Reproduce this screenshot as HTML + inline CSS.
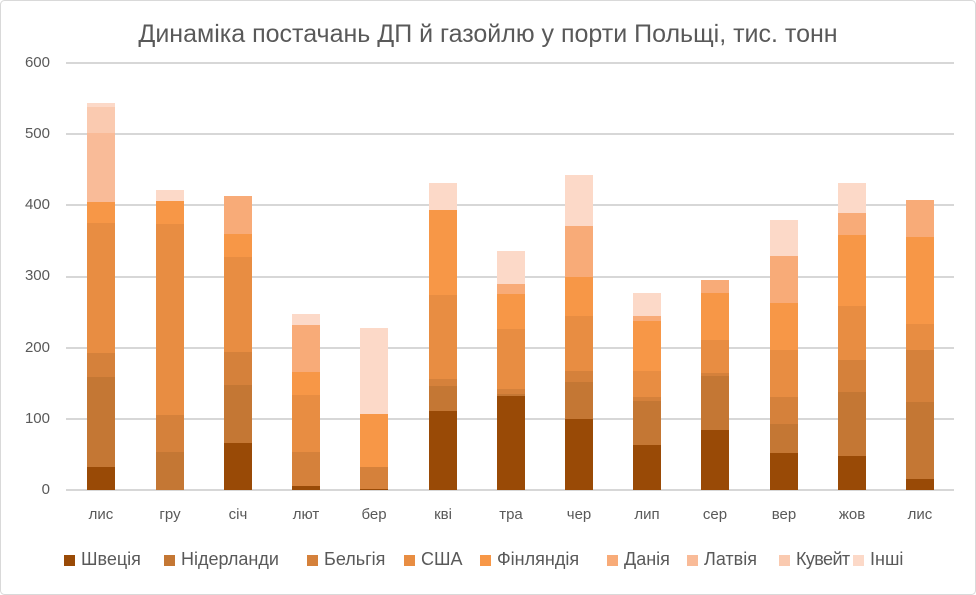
<!DOCTYPE html>
<html><head><meta charset="utf-8"><style>
body{margin:0;background:#fff}
#c{position:relative;width:976px;height:595px;overflow:hidden;font-family:"Liberation Sans",sans-serif;color:#595959}
.t{position:absolute;white-space:nowrap}
</style></head><body><div id="c">
<svg width="976" height="595" style="position:absolute;left:0;top:0">
<rect x="0.5" y="0.5" width="975" height="594" rx="4" fill="#fff" stroke="#d9d9d9"/>
<g stroke="#bfbfbf" stroke-width="1.3">
<line x1="66" x2="954" y1="63" y2="63"/><line x1="66" x2="954" y1="134" y2="134"/><line x1="66" x2="954" y1="205" y2="205"/><line x1="66" x2="954" y1="277" y2="277"/><line x1="66" x2="954" y1="348" y2="348"/><line x1="66" x2="954" y1="419" y2="419"/><line x1="66" x2="954" y1="490" y2="490"/>
</g>
<g id="bars"></g>
</svg>
<div class="t" style="left:0;width:976px;top:20px;text-align:center;font-size:25px">Динаміка постачань ДП й газойлю у порти Польщі, тис. тонн</div>
<div id="lab"></div>
</div>
<script>
const C=["#994a06","#c47734","#d5813b","#e88d42","#f79747","#f8ab78","#f9bb98","#facab0","#fcd9c8"];
const B=[
[87,[[0,467],[1,377],[2,353],[3,223],[4,202],[6,133],[7,107],[8,103]]],
[156,[[1,452],[2,415],[3,224],[4,201],[8,190]]],
[224,[[0,443],[1,385],[2,352],[3,257],[4,234],[5,196]]],
[292,[[0,486],[2,452],[3,395],[4,372],[5,325],[8,314]]],
[360,[[0,489],[2,467],[4,414],[8,328]]],
[429,[[0,411],[1,386],[2,379],[3,295],[4,210],[8,183]]],
[497,[[0,396],[1,394],[2,389],[3,329],[4,294],[5,284],[8,251]]],
[565,[[0,419],[1,382],[2,371],[3,316],[4,277],[5,226],[8,175]]],
[633,[[0,445],[1,401],[2,397],[3,371],[4,321],[5,316],[8,293]]],
[701,[[0,430],[1,376],[2,373],[3,340],[4,293],[5,280]]],
[770,[[0,453],[1,424],[2,397],[3,350],[4,303],[5,256],[8,220]]],
[838,[[0,456],[1,392],[2,360],[3,306],[4,235],[5,213],[8,183]]],
[906,[[0,479],[1,402],[2,350],[3,324],[4,237],[5,200]]]];
let s="";
for(const [x,segs] of B){let b=490;for(const [i,t] of segs){s+=`<rect x="${x}" y="${t}" width="28" height="${b-t}" fill="${C[i]}"/>`;b=t;}}
document.getElementById("bars").innerHTML=s;
let h="";
const Y=[0,100,200,300,400,500,600];
Y.forEach((v,k)=>{h+=`<div class="t" style="right:926px;top:${490-k*71.17-9}px;font-size:15px">${v}</div>`});
const M=["лис","гру","січ","лют","бер","кві","тра","чер","лип","сер","вер","жов","лис"];
M.forEach((m,k)=>{h+=`<div class="t" style="left:${B[k][0]-16}px;width:60px;text-align:center;top:506px;font-size:15px">${m}</div>`});
const L=[["Швеція",64],["Нідерланди",164],["Бельгія",307],["США",404],["Фінляндія",480],["Данія",607],["Латвія",687],["Кувейт",779],["Інші",853]];
L.forEach(([n,x],i)=>{h+=`<div class="t" style="left:${x}px;top:555px;width:11px;height:11px;background:${C[i]}"></div><div class="t" style="left:${x+17}px;top:549px;font-size:18px;${n=="Кувейт"?"letter-spacing:-0.6px;":""}">${n}</div>`});
document.getElementById("lab").innerHTML=h;
</script>
</body></html>
